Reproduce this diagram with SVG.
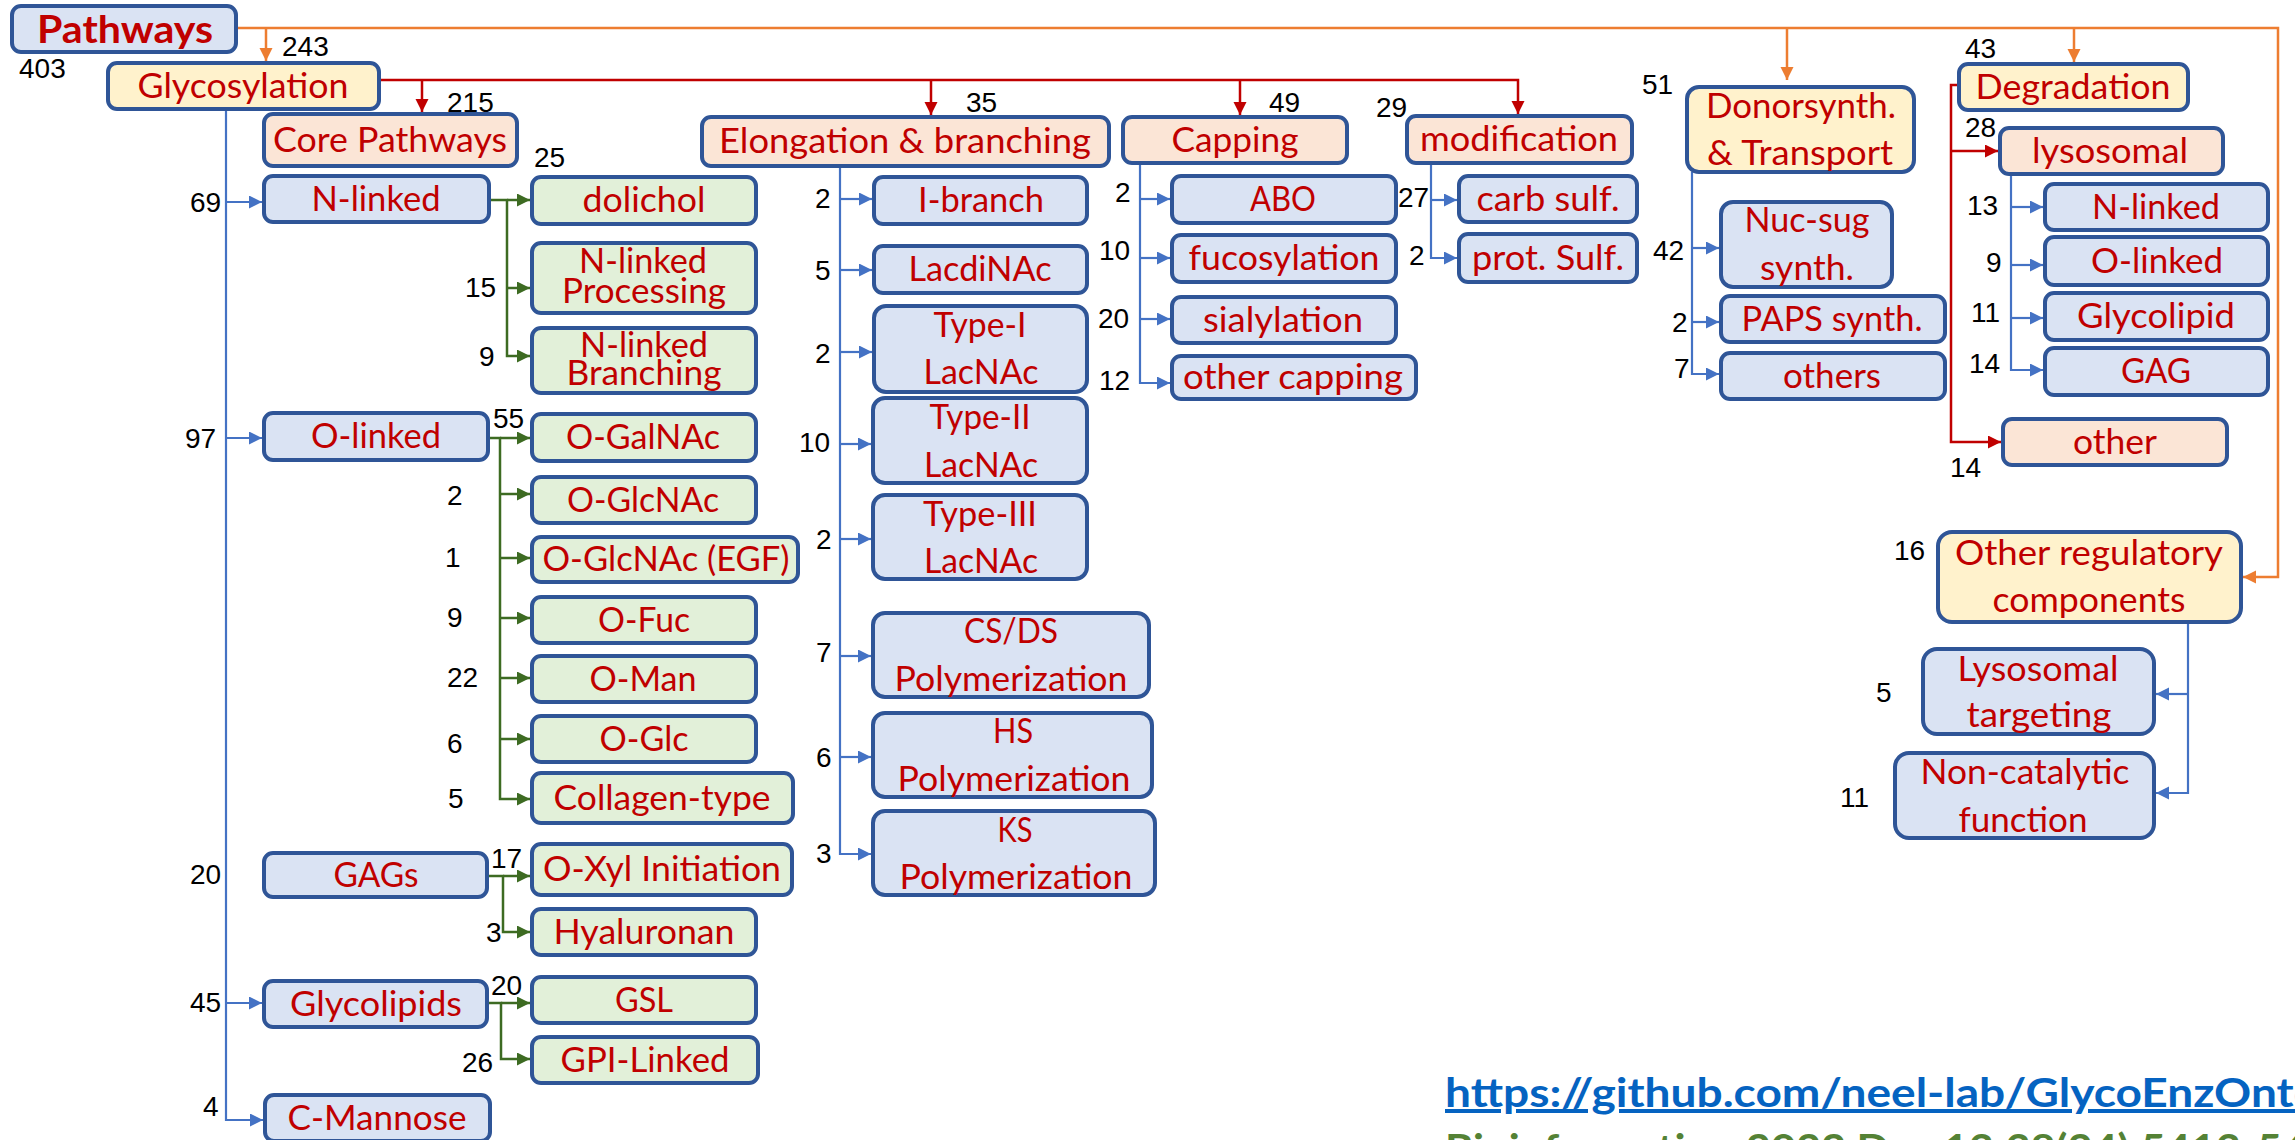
<svg xmlns="http://www.w3.org/2000/svg" width="2295" height="1140" viewBox="0 0 2295 1140">
<style>
rect.box{stroke:#2f5597;stroke-width:4}
.b{fill:#dae3f3}.g{fill:#e2f0d9}.y{fill:#fff2cc}.p{fill:#fbe5d6}
.t{font-family:Lato,"Liberation Sans",sans-serif;font-size:34px;fill:#c00000;text-anchor:middle}
.n{font-family:"Liberation Sans",Arial,sans-serif;font-size:28px;fill:#000}
.or{stroke:#ed7d31;stroke-width:2.5;fill:none}
.rd{stroke:#c00000;stroke-width:2.5;fill:none}
.bl{stroke:#4472c4;stroke-width:2.2;fill:none}
.gr{stroke:#3d6b22;stroke-width:2.5;fill:none}
.ao{marker-end:url(#mo)}.ar{marker-end:url(#mr)}.ab{marker-end:url(#mb)}.ag{marker-end:url(#mg)}
</style>
<defs>
<marker id="mo" markerUnits="userSpaceOnUse" markerWidth="14" markerHeight="14" refX="13" refY="6.5" orient="auto"><path d="M0,0 L13,6.5 L0,13 z" fill="#ed7d31"/></marker>
<marker id="mr" markerUnits="userSpaceOnUse" markerWidth="14" markerHeight="14" refX="13" refY="6.5" orient="auto"><path d="M0,0 L13,6.5 L0,13 z" fill="#c00000"/></marker>
<marker id="mb" markerUnits="userSpaceOnUse" markerWidth="14" markerHeight="14" refX="13" refY="6.5" orient="auto"><path d="M0,0 L13,6.5 L0,13 z" fill="#4472c4"/></marker>
<marker id="mg" markerUnits="userSpaceOnUse" markerWidth="14" markerHeight="14" refX="13" refY="6.5" orient="auto"><path d="M0,0 L13,6.5 L0,13 z" fill="#3d6b22"/></marker>
</defs>
<rect width="2295" height="1140" fill="#fff"/>

<g id="connectors">
<!-- orange -->
<path class="or ao" d="M236,28 H2278 V577 H2243"/>
<path class="or ao" d="M266,28 V61"/>
<path class="or ao" d="M1787,28 V80"/>
<path class="or ao" d="M2074,28 V62"/>
<!-- red -->
<path class="rd ar" d="M379,80 H1518 V114"/>
<path class="rd ar" d="M422,80 V112"/>
<path class="rd ar" d="M931,80 V115"/>
<path class="rd ar" d="M1240,80 V115"/>
<path class="rd ar" d="M1959,85 H1951 V442 H2001"/>
<path class="rd ar" d="M1951,151 H1998"/>
<!-- blue: glycosylation trunk -->
<path class="bl ab" d="M226,109 V1120 H263"/>
<path class="bl ab" d="M226,202 H262"/>
<path class="bl ab" d="M226,438 H262"/>
<path class="bl ab" d="M226,1003 H262"/>
<!-- blue: elongation -->
<path class="bl ab" d="M840,166 V854 H871"/>
<path class="bl ab" d="M840,199 H872"/>
<path class="bl ab" d="M840,270 H872"/>
<path class="bl ab" d="M840,352 H872"/>
<path class="bl ab" d="M840,444 H871"/>
<path class="bl ab" d="M840,539 H871"/>
<path class="bl ab" d="M840,656 H871"/>
<path class="bl ab" d="M840,757 H871"/>
<!-- blue: capping -->
<path class="bl ab" d="M1140,163 V383 H1170"/>
<path class="bl ab" d="M1140,199 H1170"/>
<path class="bl ab" d="M1140,258 H1170"/>
<path class="bl ab" d="M1140,319 H1170"/>
<!-- blue: modification -->
<path class="bl ab" d="M1431,163 V258 H1457"/>
<path class="bl ab" d="M1431,200 H1457"/>
<!-- blue: donor -->
<path class="bl ab" d="M1692,172 V374 H1719"/>
<path class="bl ab" d="M1692,248 H1719"/>
<path class="bl ab" d="M1692,322 H1719"/>
<!-- blue: lysosomal -->
<path class="bl ab" d="M2011,174 V370 H2043"/>
<path class="bl ab" d="M2011,207 H2043"/>
<path class="bl ab" d="M2011,265 H2043"/>
<path class="bl ab" d="M2011,318 H2043"/>
<!-- blue: other regulatory -->
<path class="bl ab" d="M2188,622 V793 H2156"/>
<path class="bl ab" d="M2188,694 H2156"/>
<!-- green -->
<path class="gr ag" d="M489,200 H507 V356 H530"/>
<path class="gr ag" d="M507,200 H530"/>
<path class="gr ag" d="M507,288 H530"/>
<path class="gr ag" d="M488,438 H500 V799 H530"/>
<path class="gr ag" d="M500,438 H530"/>
<path class="gr ag" d="M500,494 H530"/>
<path class="gr ag" d="M500,558 H530"/>
<path class="gr ag" d="M500,618 H530"/>
<path class="gr ag" d="M500,678 H530"/>
<path class="gr ag" d="M500,739 H530"/>
<path class="gr ag" d="M487,876 H503 V932 H530"/>
<path class="gr ag" d="M503,876 H530"/>
<path class="gr ag" d="M487,1003 H501 V1059 H530"/>
<path class="gr ag" d="M501,1003 H530"/>
</g>

<g id="n-pathways"><rect class="box b" x="12" y="6" width="224" height="46" rx="9"/><text class="t" x="125" y="43" style="font-weight:bold;font-size:38px" textLength="176" lengthAdjust="spacingAndGlyphs">Pathways</text></g>
<g id="n-glycosylation"><rect class="box y" x="108" y="63" width="271" height="46" rx="9"/><text class="t" x="243" y="98" textLength="211" lengthAdjust="spacingAndGlyphs">Glycosylation</text></g>
<g id="n-core"><rect class="box p" x="264" y="114" width="253" height="52" rx="9"/><text class="t" x="390" y="152" textLength="234" lengthAdjust="spacingAndGlyphs">Core Pathways</text></g>
<g id="n-nlinked"><rect class="box b" x="264" y="176" width="225" height="46" rx="9"/><text class="t" x="376" y="211" textLength="129" lengthAdjust="spacingAndGlyphs">N-linked</text></g>
<g id="n-dolichol"><rect class="box g" x="532" y="177" width="224" height="47" rx="9"/><text class="t" x="644" y="212" textLength="123" lengthAdjust="spacingAndGlyphs">dolichol</text></g>
<g id="n-nproc"><rect class="box g" x="532" y="243" width="224" height="70" rx="9"/><text class="t" x="643" y="273" textLength="128" lengthAdjust="spacingAndGlyphs">N-linked</text><text class="t" x="644" y="303" textLength="164" lengthAdjust="spacingAndGlyphs">Processing</text></g>
<g id="n-nbranch"><rect class="box g" x="532" y="328" width="224" height="65" rx="9"/><text class="t" x="644" y="357" textLength="128" lengthAdjust="spacingAndGlyphs">N-linked</text><text class="t" x="644" y="385" textLength="155" lengthAdjust="spacingAndGlyphs">Branching</text></g>
<g id="n-olinked"><rect class="box b" x="264" y="413" width="224" height="47" rx="9"/><text class="t" x="376" y="448" textLength="130" lengthAdjust="spacingAndGlyphs">O-linked</text></g>
<g id="n-ogalnac"><rect class="box g" x="532" y="414" width="224" height="47" rx="9"/><text class="t" x="643" y="449" textLength="154" lengthAdjust="spacingAndGlyphs">O-GalNAc</text></g>
<g id="n-oglcnac"><rect class="box g" x="532" y="477" width="224" height="46" rx="9"/><text class="t" x="643" y="512" textLength="152" lengthAdjust="spacingAndGlyphs">O-GlcNAc</text></g>
<g id="n-oglcnacegf"><rect class="box g" x="532" y="537" width="266" height="45" rx="9"/><text class="t" x="666" y="571" textLength="247" lengthAdjust="spacingAndGlyphs">O-GlcNAc (EGF)</text></g>
<g id="n-ofuc"><rect class="box g" x="532" y="597" width="224" height="46" rx="9"/><text class="t" x="644" y="632" textLength="92" lengthAdjust="spacingAndGlyphs">O-Fuc</text></g>
<g id="n-oman"><rect class="box g" x="532" y="656" width="224" height="46" rx="9"/><text class="t" x="643" y="691" textLength="107" lengthAdjust="spacingAndGlyphs">O-Man</text></g>
<g id="n-oglc"><rect class="box g" x="532" y="716" width="224" height="46" rx="9"/><text class="t" x="644" y="751" textLength="89" lengthAdjust="spacingAndGlyphs">O-Glc</text></g>
<g id="n-collagen"><rect class="box g" x="532" y="773" width="261" height="50" rx="9"/><text class="t" x="662" y="810" textLength="217" lengthAdjust="spacingAndGlyphs">Collagen-type</text></g>
<g id="n-gags"><rect class="box b" x="264" y="853" width="223" height="44" rx="9"/><text class="t" x="376" y="887" textLength="85" lengthAdjust="spacingAndGlyphs">GAGs</text></g>
<g id="n-oxyl"><rect class="box g" x="532" y="844" width="260" height="51" rx="9"/><text class="t" x="662" y="881" textLength="238" lengthAdjust="spacingAndGlyphs">O-Xyl Initiation</text></g>
<g id="n-hyaluronan"><rect class="box g" x="532" y="909" width="224" height="46" rx="9"/><text class="t" x="644" y="944" textLength="181" lengthAdjust="spacingAndGlyphs">Hyaluronan</text></g>
<g id="n-glycolipids"><rect class="box b" x="264" y="981" width="223" height="46" rx="9"/><text class="t" x="376" y="1016" textLength="172" lengthAdjust="spacingAndGlyphs">Glycolipids</text></g>
<g id="n-gsl"><rect class="box g" x="532" y="977" width="224" height="46" rx="9"/><text class="t" x="644" y="1012" textLength="58" lengthAdjust="spacingAndGlyphs">GSL</text></g>
<g id="n-gpi"><rect class="box g" x="532" y="1037" width="226" height="46" rx="9"/><text class="t" x="645" y="1072" textLength="169" lengthAdjust="spacingAndGlyphs">GPI-Linked</text></g>
<g id="n-cmannose"><rect class="box b" x="265" y="1095" width="225" height="46" rx="9"/><text class="t" x="377" y="1130" textLength="179" lengthAdjust="spacingAndGlyphs">C-Mannose</text></g>

<g id="n-elongation"><rect class="box p" x="702" y="117" width="407" height="49" rx="9"/><text class="t" x="905" y="153" textLength="372" lengthAdjust="spacingAndGlyphs">Elongation &amp; branching</text></g>
<g id="n-ibranch"><rect class="box b" x="874" y="177" width="213" height="47" rx="9"/><text class="t" x="981" y="212" textLength="126" lengthAdjust="spacingAndGlyphs">I-branch</text></g>
<g id="n-lacdinac"><rect class="box b" x="874" y="246" width="213" height="47" rx="9"/><text class="t" x="980" y="281" textLength="143" lengthAdjust="spacingAndGlyphs">LacdiNAc</text></g>
<g id="n-type1"><rect class="box b" x="874" y="306" width="213" height="86" rx="12"/><text class="t" x="980" y="337" textLength="93" lengthAdjust="spacingAndGlyphs">Type-I</text><text class="t" x="981" y="384" textLength="115" lengthAdjust="spacingAndGlyphs">LacNAc</text></g>
<g id="n-type2"><rect class="box b" x="873" y="398" width="214" height="85" rx="12"/><text class="t" x="980" y="429" textLength="101" lengthAdjust="spacingAndGlyphs">Type-II</text><text class="t" x="981" y="477" textLength="114" lengthAdjust="spacingAndGlyphs">LacNAc</text></g>
<g id="n-type3"><rect class="box b" x="873" y="495" width="214" height="84" rx="12"/><text class="t" x="980" y="526" textLength="114" lengthAdjust="spacingAndGlyphs">Type-III</text><text class="t" x="981" y="573" textLength="114" lengthAdjust="spacingAndGlyphs">LacNAc</text></g>
<g id="n-csds"><rect class="box b" x="873" y="613" width="276" height="84" rx="12"/><text class="t" x="1011" y="643" textLength="94" lengthAdjust="spacingAndGlyphs">CS/DS</text><text class="t" x="1011" y="691" textLength="233" lengthAdjust="spacingAndGlyphs">Polymerization</text></g>
<g id="n-hs"><rect class="box b" x="873" y="713" width="279" height="84" rx="12"/><text class="t" x="1013" y="743" textLength="40" lengthAdjust="spacingAndGlyphs">HS</text><text class="t" x="1014" y="791" textLength="233" lengthAdjust="spacingAndGlyphs">Polymerization</text></g>
<g id="n-ks"><rect class="box b" x="873" y="811" width="282" height="84" rx="12"/><text class="t" x="1015" y="842" textLength="35" lengthAdjust="spacingAndGlyphs">KS</text><text class="t" x="1016" y="889" textLength="233" lengthAdjust="spacingAndGlyphs">Polymerization</text></g>

<g id="n-capping"><rect class="box p" x="1123" y="117" width="224" height="46" rx="9"/><text class="t" x="1235" y="152" textLength="127" lengthAdjust="spacingAndGlyphs">Capping</text></g>
<g id="n-abo"><rect class="box b" x="1172" y="176" width="224" height="47" rx="9"/><text class="t" x="1283" y="211" textLength="66" lengthAdjust="spacingAndGlyphs">ABO</text></g>
<g id="n-fucosylation"><rect class="box b" x="1172" y="235" width="224" height="47" rx="9"/><text class="t" x="1284" y="270" textLength="191" lengthAdjust="spacingAndGlyphs">fucosylation</text></g>
<g id="n-sialylation"><rect class="box b" x="1172" y="297" width="224" height="46" rx="9"/><text class="t" x="1283" y="332" textLength="160" lengthAdjust="spacingAndGlyphs">sialylation</text></g>
<g id="n-othercapping"><rect class="box b" x="1172" y="356" width="244" height="43" rx="9"/><text class="t" x="1293" y="389" textLength="220" lengthAdjust="spacingAndGlyphs">other capping</text></g>

<g id="n-modification"><rect class="box p" x="1407" y="116" width="225" height="47" rx="9"/><text class="t" x="1519" y="151" textLength="198" lengthAdjust="spacingAndGlyphs">modification</text></g>
<g id="n-carbsulf"><rect class="box b" x="1459" y="176" width="178" height="46" rx="9"/><text class="t" x="1548" y="211" textLength="143" lengthAdjust="spacingAndGlyphs">carb sulf.</text></g>
<g id="n-protsulf"><rect class="box b" x="1459" y="234" width="178" height="48" rx="9"/><text class="t" x="1548" y="270" textLength="152" lengthAdjust="spacingAndGlyphs">prot. Sulf.</text></g>

<g id="n-donor"><rect class="box y" x="1687" y="87" width="227" height="85" rx="12"/><text class="t" x="1801" y="118" textLength="190" lengthAdjust="spacingAndGlyphs">Donorsynth.</text><text class="t" x="1800" y="165" textLength="186" lengthAdjust="spacingAndGlyphs">&amp; Transport</text></g>
<g id="n-nucsug"><rect class="box b" x="1721" y="202" width="171" height="85" rx="12"/><text class="t" x="1807" y="232" textLength="125" lengthAdjust="spacingAndGlyphs">Nuc-sug</text><text class="t" x="1807" y="280" textLength="94" lengthAdjust="spacingAndGlyphs">synth.</text></g>
<g id="n-paps"><rect class="box b" x="1721" y="296" width="224" height="46" rx="9"/><text class="t" x="1832" y="331" textLength="181" lengthAdjust="spacingAndGlyphs">PAPS synth.</text></g>
<g id="n-others"><rect class="box b" x="1721" y="353" width="224" height="46" rx="9"/><text class="t" x="1832" y="388" textLength="98" lengthAdjust="spacingAndGlyphs">others</text></g>

<g id="n-degradation"><rect class="box y" x="1959" y="64" width="229" height="46" rx="9"/><text class="t" x="2073" y="99" textLength="195" lengthAdjust="spacingAndGlyphs">Degradation</text></g>
<g id="n-lysosomal"><rect class="box p" x="2000" y="128" width="223" height="46" rx="9"/><text class="t" x="2110" y="163" textLength="156" lengthAdjust="spacingAndGlyphs">lysosomal</text></g>
<g id="n-deg-nlinked"><rect class="box b" x="2045" y="184" width="223" height="46" rx="9"/><text class="t" x="2156" y="219" textLength="128" lengthAdjust="spacingAndGlyphs">N-linked</text></g>
<g id="n-deg-olinked"><rect class="box b" x="2045" y="237" width="223" height="48" rx="9"/><text class="t" x="2157" y="273" textLength="132" lengthAdjust="spacingAndGlyphs">O-linked</text></g>
<g id="n-deg-glycolipid"><rect class="box b" x="2045" y="293" width="223" height="47" rx="9"/><text class="t" x="2156" y="328" textLength="158" lengthAdjust="spacingAndGlyphs">Glycolipid</text></g>
<g id="n-deg-gag"><rect class="box b" x="2045" y="348" width="223" height="47" rx="9"/><text class="t" x="2156" y="383" textLength="70" lengthAdjust="spacingAndGlyphs">GAG</text></g>
<g id="n-deg-other"><rect class="box p" x="2003" y="419" width="224" height="46" rx="9"/><text class="t" x="2115" y="454" textLength="84" lengthAdjust="spacingAndGlyphs">other</text></g>

<g id="n-otherreg"><rect class="box y" x="1938" y="532" width="303" height="90" rx="14"/><text class="t" x="2089" y="565" textLength="268" lengthAdjust="spacingAndGlyphs">Other regulatory</text><text class="t" x="2089" y="612" textLength="193" lengthAdjust="spacingAndGlyphs">components</text></g>
<g id="n-lystarget"><rect class="box b" x="1923" y="649" width="231" height="85" rx="14"/><text class="t" x="2038" y="681" textLength="161" lengthAdjust="spacingAndGlyphs">Lysosomal</text><text class="t" x="2039" y="727" textLength="145" lengthAdjust="spacingAndGlyphs">targeting</text></g>
<g id="n-noncat"><rect class="box b" x="1895" y="753" width="259" height="85" rx="14"/><text class="t" x="2025" y="784" textLength="209" lengthAdjust="spacingAndGlyphs">Non-catalytic</text><text class="t" x="2023" y="832" textLength="129" lengthAdjust="spacingAndGlyphs">function</text></g>

<g id="counts" class="n">
<text x="19" y="78">403</text>
<text x="282" y="56">243</text>
<text x="447" y="112">215</text>
<text x="534" y="167">25</text>
<text x="190" y="212">69</text>
<text x="465" y="297">15</text>
<text x="479" y="366">9</text>
<text x="185" y="448">97</text>
<text x="493" y="428">55</text>
<text x="447" y="505">2</text>
<text x="445" y="567">1</text>
<text x="447" y="627">9</text>
<text x="447" y="687">22</text>
<text x="447" y="753">6</text>
<text x="448" y="808">5</text>
<text x="190" y="884">20</text>
<text x="491" y="868">17</text>
<text x="486" y="942">3</text>
<text x="190" y="1012">45</text>
<text x="491" y="995">20</text>
<text x="462" y="1072">26</text>
<text x="203" y="1116">4</text>
<text x="966" y="112">35</text>
<text x="815" y="208">2</text>
<text x="815" y="280">5</text>
<text x="815" y="363">2</text>
<text x="799" y="452">10</text>
<text x="816" y="549">2</text>
<text x="816" y="662">7</text>
<text x="816" y="767">6</text>
<text x="816" y="863">3</text>
<text x="1269" y="112">49</text>
<text x="1115" y="202">2</text>
<text x="1099" y="260">10</text>
<text x="1098" y="328">20</text>
<text x="1099" y="390">12</text>
<text x="1376" y="117">29</text>
<text x="1398" y="207">27</text>
<text x="1409" y="265">2</text>
<text x="1642" y="94">51</text>
<text x="1653" y="260">42</text>
<text x="1672" y="332">2</text>
<text x="1674" y="378">7</text>
<text x="1965" y="58">43</text>
<text x="1965" y="137">28</text>
<text x="1967" y="215">13</text>
<text x="1986" y="272">9</text>
<text x="1971" y="322">11</text>
<text x="1969" y="373">14</text>
<text x="1950" y="477">14</text>
<text x="1894" y="560">16</text>
<text x="1876" y="702">5</text>
<text x="1840" y="807">11</text>
</g>

<g id="citation">
<text x="1445" y="1107" style="font-family:Lato,'Liberation Sans',sans-serif;font-weight:bold;font-size:40px;fill:#0563c1;text-decoration:underline" textLength="875" lengthAdjust="spacingAndGlyphs">https://github.com/neel-lab/GlycoEnzOnto</text>
<text x="1445" y="1163" style="font-family:Lato,'Liberation Sans',sans-serif;font-weight:bold;font-size:40px;fill:#548235" textLength="862" lengthAdjust="spacingAndGlyphs">Bioinformatics. 2022 Dec 13;38(24):5413-54</text>
</g>
</svg>
